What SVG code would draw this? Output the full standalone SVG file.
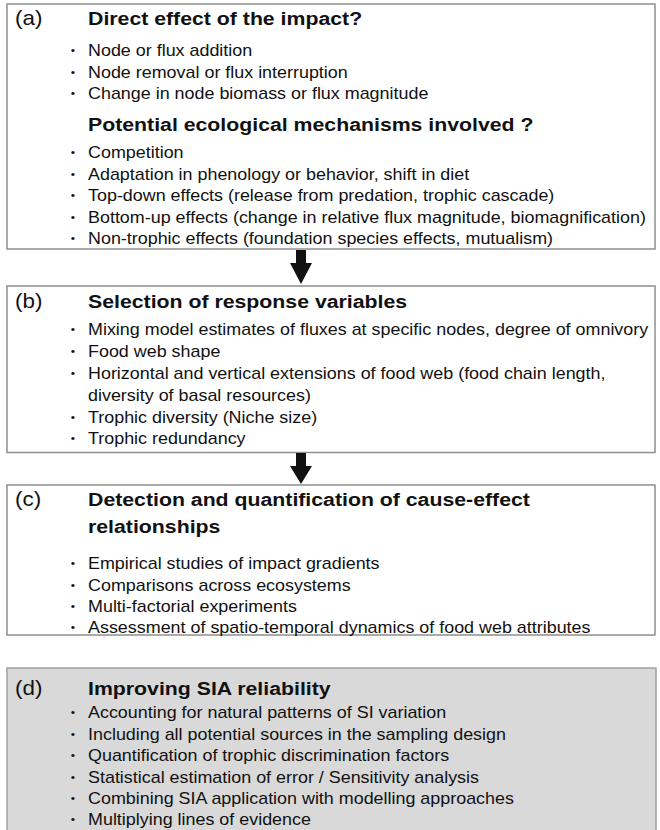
<svg xmlns="http://www.w3.org/2000/svg" width="660" height="830" viewBox="0 0 660 830">
<style>
.box{fill:#ffffff;stroke:#8f8f8f;stroke-width:1.5}
.boxd{fill:#d9d9d9;stroke:#a0a0a0;stroke-width:1.5}
text{font-family:"Liberation Sans",Arial,sans-serif;fill:#111}
.lab{font-size:20px}
.ttl{font-size:19px;font-weight:bold}
.it{font-size:16px}
.bu{font-size:11px;text-anchor:middle}
.arrow{fill:#111}
</style>
<rect x="0" y="0" width="660" height="830" fill="#ffffff"/>
<g id="node-a">
<rect class="box" x="7" y="4" width="648" height="245"/>
<g transform="scale(1.12 1)">
<text class="lab" x="13.4" y="25">(a)</text>
<text class="ttl" x="78.6" y="25">Direct effect of the impact?</text>
<text class="bu" x="65" y="54">•</text><text class="it" x="78.6" y="56">Node or flux addition</text>
<text class="bu" x="65" y="76">•</text><text class="it" x="78.6" y="78">Node removal or flux interruption</text>
<text class="bu" x="65" y="97.5">•</text><text class="it" x="78.6" y="99.5">Change in node biomass or flux magnitude</text>
<text class="ttl" x="78.6" y="131">Potential ecological mechanisms involved ?</text>
<text class="bu" x="65" y="156">•</text><text class="it" x="78.6" y="158">Competition</text>
<text class="bu" x="65" y="178">•</text><text class="it" x="78.6" y="180">Adaptation in phenology or behavior, shift in diet</text>
<text class="bu" x="65" y="199.5">•</text><text class="it" x="78.6" y="201.5">Top-down effects (release from predation, trophic cascade)</text>
<text class="bu" x="65" y="221">•</text><text class="it" x="78.6" y="223">Bottom-up effects (change in relative flux magnitude, biomagnification)</text>
<text class="bu" x="65" y="242">•</text><text class="it" x="78.6" y="244">Non-trophic effects (foundation species effects, mutualism)</text>
</g>
</g>
<g id="node-b">
<rect class="box" x="7" y="286" width="648" height="166.5"/>
<g transform="scale(1.12 1)">
<text class="lab" x="13.4" y="308">(b)</text>
<text class="ttl" x="78.6" y="308">Selection of response variables</text>
<text class="bu" x="65" y="333">•</text><text class="it" x="78.6" y="335">Mixing model estimates of fluxes at specific nodes, degree of omnivory</text>
<text class="bu" x="65" y="355">•</text><text class="it" x="78.6" y="357">Food web shape</text>
<text class="bu" x="65" y="377">•</text><text class="it" x="78.6" y="379">Horizontal and vertical extensions of food web (food chain length,</text>
<text class="it" x="78.6" y="401">diversity of basal resources)</text>
<text class="bu" x="65" y="421">•</text><text class="it" x="78.6" y="423">Trophic diversity (Niche size)</text>
<text class="bu" x="65" y="442">•</text><text class="it" x="78.6" y="444">Trophic redundancy</text>
</g>
</g>
<g id="node-c">
<rect class="box" x="7" y="485" width="648" height="150"/>
<g transform="scale(1.12 1)">
<text class="lab" x="13.4" y="506">(c)</text>
<text class="ttl" x="78.6" y="506">Detection and quantification of cause-effect</text>
<text class="ttl" x="78.6" y="533">relationships</text>
<text class="bu" x="65" y="567">•</text><text class="it" x="78.6" y="569">Empirical studies of impact gradients</text>
<text class="bu" x="65" y="589">•</text><text class="it" x="78.6" y="591">Comparisons across ecosystems</text>
<text class="bu" x="65" y="610.5">•</text><text class="it" x="78.6" y="612.5">Multi-factorial experiments</text>
<text class="bu" x="65" y="631">•</text><text class="it" x="78.6" y="633">Assessment of spatio-temporal dynamics of food web attributes</text>
</g>
</g>
<g id="node-d">
<rect class="boxd" x="7" y="668" width="649" height="170"/>
<g transform="scale(1.12 1)">
<text class="lab" x="13.4" y="695">(d)</text>
<text class="ttl" x="78.6" y="695">Improving SIA reliability</text>
<text class="bu" x="65" y="716">•</text><text class="it" x="78.6" y="718">Accounting for natural patterns of SI variation</text>
<text class="bu" x="65" y="738">•</text><text class="it" x="78.6" y="740">Including all potential sources in the sampling design</text>
<text class="bu" x="65" y="759.5">•</text><text class="it" x="78.6" y="761.5">Quantification of trophic discrimination factors</text>
<text class="bu" x="65" y="781">•</text><text class="it" x="78.6" y="783">Statistical estimation of error / Sensitivity analysis</text>
<text class="bu" x="65" y="802.5">•</text><text class="it" x="78.6" y="804.5">Combining SIA application with modelling approaches</text>
<text class="bu" x="65" y="823">•</text><text class="it" x="78.6" y="825">Multiplying lines of evidence</text>
</g>
</g>
<g id="connectors">
<polygon class="arrow" points="296,250 306,250 306,263 312,263 301,284 290,263 296,263"/>
<polygon class="arrow" points="296,453 306,453 306,466 312,466 301,484 290,466 296,466"/>
</g>
</svg>
